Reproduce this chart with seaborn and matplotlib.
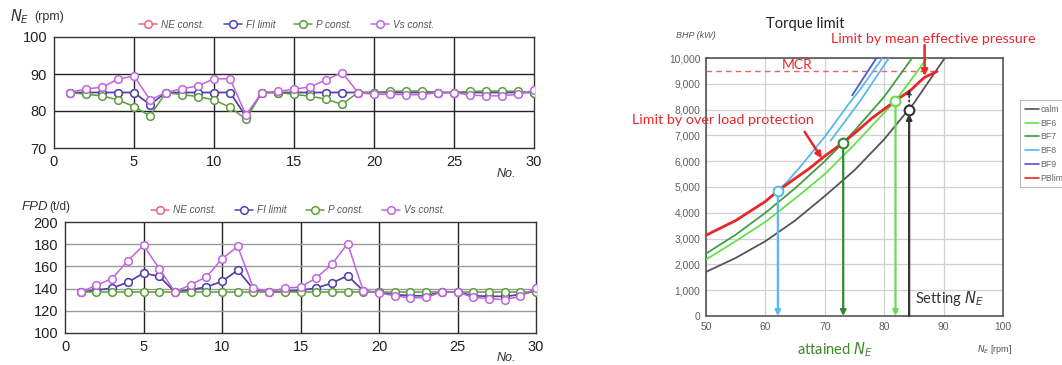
import matplotlib
matplotlib.use("Agg")
import matplotlib.pyplot as plt
import seaborn as sns
import pandas as pd
import numpy as np

sns.set_theme(style="white")
plt.rcParams['font.family'] = ['Liberation Sans', 'DejaVu Sans']

# ---------------- data: left charts ----------------
voyage_no = list(range(1, 31))
series_names = ["NE const.", "FI limit", "P const.", "Vs const."]

ne_fi_limit = [85, 85, 85, 85, 85, 81.7, 85, 85, 85, 85, 85, 78.5, 85, 85, 85,
               85, 85, 85, 85, 85, 85, 85, 85, 85, 85, 85, 85, 85, 85, 85]
ne_ne_const = ne_fi_limit
ne_p_const = [85, 84.5, 84.1, 83, 81.2, 78.7, 85, 84.4, 83.9, 83, 81, 77.8, 85, 85, 84.5,
              84, 83.2, 81.8, 85, 85, 85.3, 85.4, 85.4, 85, 85, 85.3, 85.4, 85.4, 85.3, 85]
ne_vs_const = [85, 86, 86.4, 88.6, 89.5, 83, 85, 86, 86.8, 88.7, 88.7, 78.9, 85, 85.3, 85.9,
               86.5, 88.4, 90.4, 85, 84.5, 84.5, 84.4, 84.4, 85, 85, 84.3, 84.1, 84.1, 84.5, 85.6]

fpd_fi_limit = [137, 138.5, 140.5, 145.6, 154, 151, 137, 139, 141.4, 146.5, 156.5, 139.6, 137, 137.5, 138.4,
                140.5, 145, 151.7, 138, 136.5, 134.5, 133.6, 133.6, 137, 137, 133.6, 133, 133, 134.5, 138]
fpd_ne_const = fpd_fi_limit
fpd_p_const = [136.5] * 30
fpd_vs_const = [137, 143, 149, 165, 179, 158, 137, 143.5, 150.5, 166.7, 178, 140.5, 137, 140.5, 141.4,
                149.5, 162, 180.5, 138, 136, 133.6, 131.5, 132, 137, 137, 132, 131, 130, 133, 140.5]

# ---------------- data: right chart ----------------
calm_n = [50, 55, 60, 65, 70, 75, 80, 85, 90.2]
calm_p = [1710, 2250, 2900, 3700, 4650, 5650, 6850, 8250, 10000]
bf6_n = [50, 55, 60, 65, 70, 75, 80, 81.9, 85, 87.2]
bf6_p = [2190, 2900, 3650, 4550, 5500, 6650, 7880, 8340, 9300, 10000]
bf7_n = [50, 55, 60, 65, 70, 73.1, 75, 80, 84.7]
bf7_p = [2420, 3150, 4000, 4950, 6000, 6720, 7180, 8500, 10000]
bf8_n = [62.1, 63.9, 66, 70, 74.1, 76, 79.7]
bf8_p = [4850, 5260, 5820, 6950, 8240, 8800, 10000]
bf8b_n = [71, 76, 80.8]
bf8b_p = [6800, 8350, 10000]
bf9_n = [74.6, 78.7]
bf9_p = [8550, 10000]
pblim_n = [50, 55, 60, 62.1, 65, 67.3, 70, 73.1, 75, 78, 81.9, 84.5, 85.9, 86.8, 88.9]
pblim_p = [3130, 3700, 4440, 4850, 5330, 5700, 6200, 6720, 7080, 7680, 8340, 8760, 9070, 9250, 9480]
mcr_kw = 9500
attained = {"BF8": (62.1, 4850), "BF7": (73.1, 6720), "BF6": (81.9, 8340)}
setting_ne = 84.2
calm_at_setting = 7980
pb_at_setting = 8800

W, H = 1062, 365
fig = plt.figure(figsize=(W / 100, H / 100), dpi=100)

def px_axes(x0, y0, x1, y1):
    return fig.add_axes([x0 / W, 1 - y1 / H, (x1 - x0) / W, (y1 - y0) / H])

colors = {"NE const.": "#f0607e", "FI limit": "#4646b4", "P const.": "#5a9e3c", "Vs const.": "#c064e0"}

def left_chart(ax, series, ylim, yticks, grid_h_color, leg_x):
    df = pd.DataFrame({"No": voyage_no * 4,
                       "val": sum(series, []),
                       "case": sum([[n] * 30 for n in series_names], [])})
    for name in series_names:
        sub = df[df["case"] == name]
        sns.lineplot(data=sub, x="No", y="val", ax=ax, color=colors[name], lw=1.1,
                     marker="o", markersize=5.5, markerfacecolor="white",
                     markeredgecolor=colors[name], markeredgewidth=1.1, label=name, legend=False,
                     zorder=3)
    ax.set_xlim(0, 30)
    ax.set_ylim(*ylim)
    ax.set_xticks(range(0, 31, 5))
    ax.set_yticks(yticks)
    for v in range(5, 30, 5):
        ax.axvline(v, color="#222222", lw=1.0, zorder=1)
    for v in yticks[1:-1]:
        ax.axhline(v, color=grid_h_color, lw=1.0, zorder=1)
    for s in ax.spines.values():
        s.set_color("#333333")
        s.set_linewidth(1.0)
    ax.tick_params(labelsize=10.5, colors="#222222", length=0, pad=5)
    ax.set_xlabel("")
    ax.set_ylabel("")
    h, l = ax.get_legend_handles_labels()
    leg = ax.legend(h, l, ncol=4, loc="lower center", bbox_to_anchor=(leg_x, 1.0),
                    frameon=False, fontsize=7.2, handlelength=1.8, columnspacing=1.9,
                    handletextpad=0.4, borderaxespad=0.3)
    for t in leg.get_texts():
        t.set_style("italic")
        t.set_color("#555555")

ax1 = px_axes(54, 37, 534, 148)
left_chart(ax1, [ne_ne_const, ne_fi_limit, ne_p_const, ne_vs_const], (70, 100), [70, 80, 90, 100],
           "#222222", 0.485)
fig.text(10 / W, 1 - 17 / H, r"$N_E$", fontsize=10.5, va="center", ha="left", color="#333333")
fig.text(34 / W, 1 - 17 / H, "(rpm)", fontsize=9, va="center", ha="left", color="#333333")
fig.text(497 / W, 1 - 174 / H, "No.", fontsize=9, style="italic", va="center", ha="left", color="#333333")

ax2 = px_axes(65, 222, 536, 333)
left_chart(ax2, [fpd_ne_const, fpd_fi_limit, fpd_p_const, fpd_vs_const], (100, 200),
           [100, 120, 140, 160, 180, 200], "#9a9a9a", 0.495)
fig.text(22 / W, 1 - 207 / H, "FPD", fontsize=9.5, style="italic", va="center", ha="left", color="#333333")
fig.text(49 / W, 1 - 207 / H, "(t/d)", fontsize=8.5, va="center", ha="left", color="#333333")
fig.text(497 / W, 1 - 358 / H, "No.", fontsize=9, style="italic", va="center", ha="left", color="#333333")

# ---------------- right chart ----------------
ax3 = px_axes(706, 58, 1003, 316)
c_calm, c_bf6, c_bf7, c_bf8, c_bf9, c_pb = "#555555", "#66e04a", "#3fa043", "#55bbee", "#5656cc", "#e8262a"
ax3.axhline(mcr_kw, xmin=0, xmax=(88.9 - 50) / 50, color="#f06060", lw=1.0, ls=(0, (4, 3)), zorder=2)
curves = [("calm", calm_n, calm_p, c_calm), ("BF6", bf6_n, bf6_p, c_bf6), ("BF7", bf7_n, bf7_p, c_bf7),
          ("BF8", bf8_n, bf8_p, c_bf8), ("BF9", bf9_n, bf9_p, c_bf9)]
for name, n, p, c in curves:
    sns.lineplot(x=n, y=p, ax=ax3, color=c, lw=1.3, sort=False, label=name, legend=False, zorder=3)
sns.lineplot(x=bf8b_n, y=bf8b_p, ax=ax3, color=c_bf8, lw=1.3, sort=False, legend=False, zorder=3)
sns.lineplot(x=pblim_n, y=pblim_p, ax=ax3, color=c_pb, lw=2.0, sort=False, label="PBlim", legend=False, zorder=4)

arrow_cols = {"BF8": c_bf8, "BF7": "#2e8a32", "BF6": c_bf6}
for k, (n, p) in attained.items():
    ax3.annotate("", xy=(n, 0), xytext=(n, p),
                 arrowprops=dict(arrowstyle="-|>", color=arrow_cols[k], lw=1.6, mutation_scale=8,
                                 shrinkA=0, shrinkB=0), zorder=5)
    ax3.plot([n], [p], marker="o", ms=7, mfc="white", mec=arrow_cols[k], mew=1.5, zorder=6)
ax3.annotate("", xy=(setting_ne, calm_at_setting - 150), xytext=(setting_ne, 0),
             arrowprops=dict(arrowstyle="-|>", color="#333333", lw=1.6, mutation_scale=8,
                             shrinkA=0, shrinkB=0), zorder=5)
ax3.annotate("", xy=(setting_ne, pb_at_setting), xytext=(setting_ne, calm_at_setting + 150),
             arrowprops=dict(arrowstyle="-|>", color="#333333", lw=1.2, ls=":", mutation_scale=7,
                             shrinkA=0, shrinkB=0), zorder=5)
ax3.plot([setting_ne], [calm_at_setting], marker="o", ms=7, mfc="white", mec="#333333", mew=1.5, zorder=6)

ax3.set_xlim(50, 100)
ax3.set_ylim(0, 10000)
ax3.set_xticks(range(50, 101, 10))
ax3.set_yticks(range(0, 10001, 1000))
ax3.set_yticklabels([f"{v:,}" for v in range(0, 10001, 1000)])
ax3.grid(True, color="#d0d0d0", lw=0.9)
ax3.set_axisbelow(True)
for s in ax3.spines.values():
    s.set_color("#555555")
    s.set_linewidth(1.2)
ax3.tick_params(labelsize=7.4, colors="#606060", length=0, pad=4)
ax3.set_xlabel("")
ax3.set_ylabel("")

af = ["Lato", "DejaVu Sans"]
fig.text(676 / W, 1 - 35 / H, "BHP (kW)", fontsize=6.5, style="italic", color="#555555", va="center")
fig.text(977 / W, 1 - 349 / H, r"$N_E$ [rpm]", fontsize=6.5, color="#555555", va="center")
fig.text(805 / W, 1 - 24 / H, "Torque limit", fontsize=10.5, color="#222222", ha="center", va="center",
         family=af)
fig.text(933 / W, 1 - 39 / H, "Limit by mean effective pressure", fontsize=10.3, color="#e8262a",
         ha="center", va="center", family=af)
ax3.text(65.3, 9720, "MCR", fontsize=10, color="#e8262a", ha="center", va="center", family=af)
fig.text(723 / W, 1 - 120 / H, "Limit by over load protection", fontsize=10.3, color="#e8262a",
         ha="center", va="center", family=af)
fig.text(835 / W, 1 - 350 / H, r"attained $N_E$", fontsize=10.5, color="#3a8a2a", ha="center", va="center",
         family=af)
ax3.text(96.8, 300, r"Setting $N_E$", fontsize=10.5, color="#333333", ha="right", va="bottom", family=af)

ax3.annotate("", xy=(69.5, 6110), xytext=(66.6, 7140),
             arrowprops=dict(arrowstyle="-|>", color="#e8262a", lw=1.8, mutation_scale=9, shrinkA=0, shrinkB=0))
ax3.annotate("", xy=(86.8, 9300), xytext=(86.8, 10500), annotation_clip=False,
             arrowprops=dict(arrowstyle="-|>", color="#e8262a", lw=1.8, mutation_scale=9, shrinkA=0, shrinkB=0))

h, l = ax3.get_legend_handles_labels()
leg = fig.legend(h, l, loc="upper left", bbox_to_anchor=(1016 / W, 1 - 96 / H), fontsize=6.3,
                 frameon=True, handlelength=1.6, handletextpad=0.2, labelspacing=0.55,
                 borderpad=0.5, fancybox=False)
leg.get_frame().set_edgecolor("#aaaaaa")
leg.get_frame().set_linewidth(0.8)
for t in leg.get_texts():
    t.set_color("#666666")
for line in leg.get_lines():
    line.set_linewidth(1.2)

fig.savefig("out.png", dpi=100)
